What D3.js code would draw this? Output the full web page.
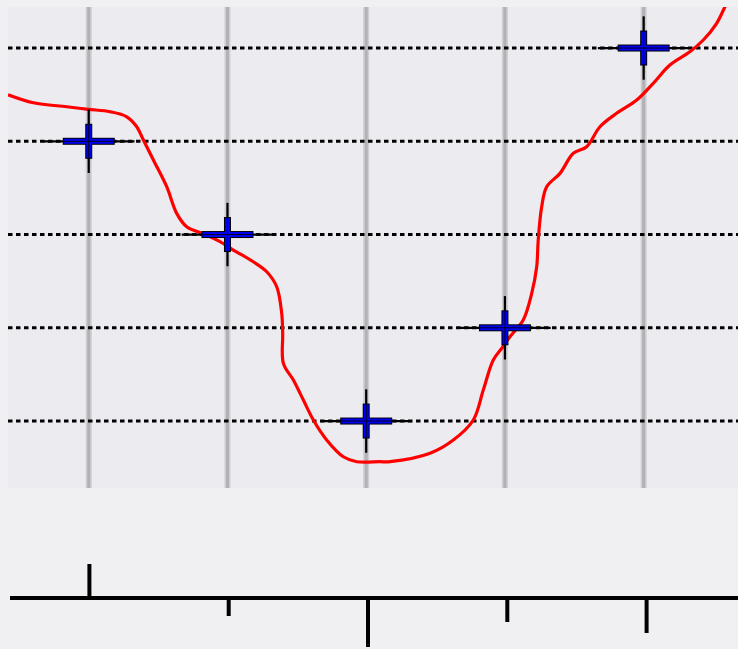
<!DOCTYPE html>
<html>
<head>
<meta charset="utf-8">
<script src="https://cdn.jsdelivr.net/npm/d3@7"></script>
<style>
  html, body { margin: 0; padding: 0; background: #f0f0f2; }
  svg { display: block; }
</style>
</head>
<body>
<svg id="chart" width="738" height="649"></svg>
<script>
// ---- data ----
const categories = [0, 1, 2, 3, 4];
const values = [4, 3, 1, 2, 5];
const xErr = [0.33, 0.33, 0.33, 0.33, 0.33];
const yErr = [0.34, 0.34, 0.34, 0.34, 0.34];
const yGridTicks = [1, 2, 3, 4, 5];
const curveX = [-0.582, -0.399, -0.159, -0.003, 0.154, 0.274, 0.346, 0.394, 0.466, 0.562, 0.634, 0.706, 0.850, 0.946, 1.042, 1.186, 1.283, 1.355, 1.391, 1.398, 1.403, 1.475, 1.547, 1.619, 1.715, 1.835, 1.932, 2.099, 2.172, 2.460, 2.628, 2.772, 2.844, 2.916, 2.984, 3.036, 3.132, 3.193, 3.229, 3.240, 3.265, 3.301, 3.397, 3.493, 3.589, 3.685, 3.805, 3.950, 4.069, 4.189, 4.333, 4.430, 4.526, 4.586, 4.636];
const curveY = [4.499, 4.413, 4.370, 4.343, 4.317, 4.263, 4.156, 4.013, 3.799, 3.513, 3.227, 3.084, 2.995, 2.923, 2.834, 2.708, 2.601, 2.440, 2.155, 1.940, 1.619, 1.440, 1.225, 1.011, 0.797, 0.617, 0.564, 0.564, 0.564, 0.654, 0.796, 1.011, 1.332, 1.654, 1.794, 1.904, 2.083, 2.369, 2.655, 2.941, 3.298, 3.513, 3.656, 3.871, 3.942, 4.156, 4.300, 4.442, 4.621, 4.818, 4.960, 5.086, 5.265, 5.443, 5.600];
const axisTicks = [0, 1, 2, 3, 4];
const axisTickLengths = [-34, 18, 49, 24, 35];

// ---- scales ----
const svg = d3.select("#chart");
const plot = { left: 8, right: 738, top: 7, bottom: 488 };
const x = d3.scaleLinear().domain([-0.582, 4.68]).range([plot.left, plot.right]);
const y = d3.scaleLinear().domain([0.282, 5.44]).range([plot.bottom, plot.top]);
const xa = d3.scaleLinear().domain([0, 4]).range([89.4, 646.6]);
const tl = d3.scaleLinear().domain([0, 50]).range([598, 648]);

svg.append("defs").append("clipPath").attr("id", "clip")
  .append("rect").attr("x", plot.left).attr("y", plot.top)
  .attr("width", plot.right - plot.left).attr("height", plot.bottom - plot.top);

svg.append("rect").attr("x", plot.left).attr("y", plot.top)
  .attr("width", plot.right - plot.left).attr("height", plot.bottom - plot.top)
  .attr("fill", "#ececf0");

const g = svg.append("g").attr("clip-path", "url(#clip)");

// vertical grid
const vg = g.append("g");
vg.selectAll("line.soft").data(categories).join("line")
  .attr("x1", d => x(d)).attr("x2", d => x(d))
  .attr("y1", plot.top).attr("y2", plot.bottom)
  .attr("stroke", "#cfcfd2").attr("stroke-width", 6);
vg.selectAll("line.core").data(categories).join("line")
  .attr("class", "core")
  .attr("x1", d => x(d)).attr("x2", d => x(d))
  .attr("y1", plot.top).attr("y2", plot.bottom)
  .attr("stroke", "#b2b2b4").attr("stroke-width", 3);

// horizontal dotted grid
g.append("g").selectAll("line").data(yGridTicks).join("line")
  .attr("x1", plot.left).attr("x2", plot.right)
  .attr("y1", d => y(d)).attr("y2", d => y(d))
  .attr("stroke", "#000").attr("stroke-width", 3)
  .attr("stroke-dasharray", "4.5,3.5");

// red curve
const pts = curveX.map((cx, i) => [cx, curveY[i]]);
g.append("path").datum(pts)
  .attr("d", d3.line().x(d => x(d[0])).y(d => y(d[1])).curve(d3.curveCatmullRom.alpha(0.5)))
  .attr("fill", "none").attr("stroke", "#ff0000").attr("stroke-width", 3.2);

// markers
const mk = g.append("g");
const data = categories.map((c, i) => ({ c, v: values[i], ex: xErr[i], ey: yErr[i] }));
mk.selectAll("line.eh").data(data).join("line")
  .attr("x1", d => x(d.c - d.ex)).attr("x2", d => x(d.c + d.ex))
  .attr("y1", d => y(d.v)).attr("y2", d => y(d.v))
  .attr("stroke", "#000").attr("stroke-width", 2.2);
mk.selectAll("line.ev").data(data).join("line")
  .attr("class", "ev")
  .attr("x1", d => x(d.c)).attr("x2", d => x(d.c))
  .attr("y1", d => y(d.v - d.ey)).attr("y2", d => y(d.v + d.ey))
  .attr("stroke", "#000").attr("stroke-width", 2.2);
// black outlines
mk.selectAll("rect.oh").data(data).join("rect")
  .attr("class", "oh")
  .attr("x", d => x(d.c) - 26).attr("y", d => y(d.v) - 3.5)
  .attr("width", 52).attr("height", 7).attr("fill", "#000");
mk.selectAll("rect.ov").data(data).join("rect")
  .attr("class", "ov")
  .attr("x", d => x(d.c) - 3.5).attr("y", d => y(d.v) - 17.5)
  .attr("width", 7).attr("height", 35).attr("fill", "#000");
// blue fill
mk.selectAll("rect.bh").data(data).join("rect")
  .attr("class", "bh")
  .attr("x", d => x(d.c) - 25).attr("y", d => y(d.v) - 2.5)
  .attr("width", 50).attr("height", 5).attr("fill", "#0000f4");
mk.selectAll("rect.bv").data(data).join("rect")
  .attr("class", "bv")
  .attr("x", d => x(d.c) - 2.5).attr("y", d => y(d.v) - 16.5)
  .attr("width", 5).attr("height", 33).attr("fill", "#0000f4");
// thin center lines
mk.selectAll("line.ch").data(data).join("line")
  .attr("class", "ch")
  .attr("x1", d => x(d.c) - 25).attr("x2", d => x(d.c) + 25)
  .attr("y1", d => y(d.v)).attr("y2", d => y(d.v))
  .attr("stroke", "#000").attr("stroke-width", 0.9);
mk.selectAll("line.cv").data(data).join("line")
  .attr("class", "cv")
  .attr("x1", d => x(d.c)).attr("x2", d => x(d.c))
  .attr("y1", d => y(d.v) - 16.5).attr("y2", d => y(d.v) + 16.5)
  .attr("stroke", "#000").attr("stroke-width", 0.9);

// bottom axis
const ax = svg.append("g");
ax.append("line").attr("x1", 10).attr("x2", 738)
  .attr("y1", tl(0)).attr("y2", tl(0))
  .attr("stroke", "#000").attr("stroke-width", 4);
ax.selectAll("line.t").data(axisTicks).join("line")
  .attr("class", "t")
  .attr("x1", d => xa(d)).attr("x2", d => xa(d))
  .attr("y1", tl(0)).attr("y2", (d, i) => tl(axisTickLengths[i]))
  .attr("stroke", "#000").attr("stroke-width", 4);
</script>
</body>
</html>
